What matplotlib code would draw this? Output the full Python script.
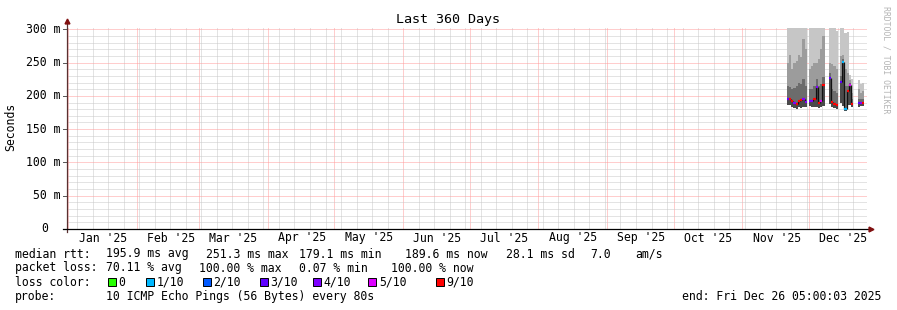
import numpy as np
import pandas as pd
import matplotlib
matplotlib.use("Agg")
import matplotlib.pyplot as plt
import matplotlib.dates as mdates
from matplotlib.ticker import MultipleLocator
from matplotlib.patches import Rectangle
from matplotlib.transforms import blended_transform_factory

plt.rcParams['font.family'] = 'DejaVu Sans Mono'
plt.rcParams['font.size'] = 8.3

W, H = 897, 310

##### data #####
days = ["2025-11-21", "2025-11-22", "2025-11-23", "2025-11-24", "2025-11-25",
        "2025-11-26", "2025-11-27", "2025-11-28", "2025-11-29",
        "2025-12-01", "2025-12-02", "2025-12-03", "2025-12-04", "2025-12-05",
        "2025-12-06", "2025-12-07",
        "2025-12-10", "2025-12-11", "2025-12-12", "2025-12-13",
        "2025-12-15", "2025-12-16", "2025-12-17", "2025-12-18", "2025-12-19",
        "2025-12-20",
        "2025-12-23", "2025-12-24", "2025-12-25"]
# smoke levels (ms)
rtt_lo  = [186, 186, 184, 182, 181, 183, 182, 184, 183,
           185, 184, 183, 183, 182, 184, 185,
           188, 183, 182, 181,
           190, 185, 178, 186, 186, 183,
           184, 185, 185]
rtt_med = [195, 196, 193, 190, 188, 192, 194, 196, 191,
           193, 193, 195, 214, 189, 192, 216,
           227, 191, 188, 187,
           221, 251, 180, 208, 217, 188,
           189, 189, 190]
rtt_p60 = [215, 214, 210, 212, 215, 220, 218, 225, 215,
           210, 210, 215, 225, 215, 218, 228,
           235, 210, 208, 205,
           230, 255, 215, 215, 219, 195,
           196, 195, 195]
rtt_p80 = [250, 262, 240, 250, 252, 262, 258, 285, 270,
           240, 245, 250, 250, 255, 270, 290,
           250, 248, 245, 240,
           260, 262, 240, 235, 224, 205,
           210, 205, 208]
rtt_hi  = [340, 340, 340, 340, 340, 340, 340, 340, 340,
           340, 340, 340, 340, 340, 340, 340,
           340, 340, 340, 298,
           340, 340, 295, 296, 232, 225,
           224, 218, 220]
loss    = [3, 9, 9, 4, 9, 9, 9, 4, 4,
           4, 4, 9, 4, 9, 5, 9,
           3, 9, 9, 9,
           3, 1, 1, 9, 5, 9,
           3, 4, 9]

loss_steps  = [0, 1, 2, 3, 4, 5, 9]
loss_labels = ["0", "1/10", "2/10", "3/10", "4/10", "5/10", "9/10"]
loss_colors = ["#26ff00", "#00b8ff", "#0059ff", "#5e00ff", "#7e00ff", "#dd00ff", "#ff0000"]

yticks = [0, 50, 100, 150, 200, 250, 300]
ytick_labels = ["0", "50 m", "100 m", "150 m", "200 m", "250 m", "300 m"]
months = ["Jan", "Feb", "Mar", "Apr", "May", "Jun", "Jul", "Aug", "Sep", "Oct", "Nov", "Dec"]

t_start = pd.Timestamp("2024-12-31 05:00")
px_per_day = 2.2178

##### figure #####
fig = plt.figure(figsize=(W / 100, H / 100), dpi=100)
fig.patch.set_facecolor("white")
ax_l, ax_r, ax_t, ax_b = 66.5, 866.5, 27.5, 229.0
ax = fig.add_axes([ax_l / W, 1 - ax_b / H, (ax_r - ax_l) / W, (ax_b - ax_t) / H])
ax.set_facecolor("white")

x0 = mdates.date2num(t_start)
x1 = x0 + (ax_r - ax_l) / px_per_day
ax.set_xlim(x0, x1)
ax.set_ylim(0, 300 * (ax_b - ax_t) / (229.0 - 29.3))

# grid (dotted, like rrdtool)
ax.xaxis.set_major_locator(mdates.MonthLocator())
ax.xaxis.set_minor_locator(mdates.WeekdayLocator(byweekday=mdates.SU))
ax.yaxis.set_major_locator(MultipleLocator(50))
ax.yaxis.set_minor_locator(MultipleLocator(10))
ax.grid(which="minor", color="#c8c8c8", lw=0.72, linestyle=(0, (1, 1)))
ax.grid(which="major", color="#ff9c9c", lw=0.72, linestyle=(0, (1, 1)))
ax.set_axisbelow(True)
ax.tick_params(axis="both", which="both", length=0, labelleft=False, labelbottom=False)
for s in ax.spines.values():
    s.set_visible(False)

# smoke
x = mdates.date2num(pd.to_datetime(days))
lo = np.array(rtt_lo, float)
med = np.array(rtt_med, float)
p60 = np.array(rtt_p60, float)
p80 = np.array(rtt_p80, float)
hi = np.array(rtt_hi, float)
bands = [(lo, med, "#4a4a4a"), (med, p60, "#6c6c6c"), (p60, p80, "#9c9c9c"), (p80, hi, "#c6c6c6")]
for b, t, c in bands:
    ax.bar(x, t - b, bottom=b, width=1.0, align="edge", color=c, linewidth=0, zorder=2)

# median
for i in range(len(x) - 1):
    if x[i + 1] - x[i] < 1.5:
        ax.vlines(x[i + 1], med[i], med[i + 1], color="#111111", lw=0.9, zorder=3)
col_of = dict(zip(loss_steps, loss_colors))
ax.hlines(med, x, x + 1, colors=[col_of[l] for l in loss], lw=1.6, zorder=4)

# axis lines + arrows
ax.plot([0, 0], [-0.015, 1.025], transform=ax.transAxes, color="#5a3030", lw=0.9, clip_on=False, zorder=5)
ax.plot([-0.005, 1.005], [0, 0], transform=ax.transAxes, color="black", lw=0.9, clip_on=False, zorder=5)
ax.plot([0], [1.03], transform=ax.transAxes, marker="^", ms=3.5, color="#801010", clip_on=False, zorder=6)
ax.plot([1.006], [0], transform=ax.transAxes, marker=">", ms=3.5, color="#801010", clip_on=False, zorder=6)

# y tick labels
ty = blended_transform_factory(fig.transFigure, ax.transData)
for v, lab in zip(yticks, ytick_labels):
    xr = 60.5 if lab != "0" else 48.5
    fig.text(xr / W, v, lab, transform=ty, ha="right", va="center")
    ax.plot([-4 / 800, 0], [v, v], transform=blended_transform_factory(ax.transAxes, ax.transData),
            color="#555555", lw=0.7, clip_on=False)

# x tick labels
tx = blended_transform_factory(ax.transData, fig.transFigure)
for m, name in enumerate(months):
    xm = mdates.date2num(pd.Timestamp(2025, m + 1, 16, 12))
    fig.text(xm, 1 - 238 / H, f"{name} '25", transform=tx, ha="center", va="center")

fig.text(448 / W, 1 - 19 / H, "Last 360 Days", ha="center", va="center", fontsize=9.6)
fig.text(11 / W, 1 - 127 / H, "Seconds", rotation=90, ha="center", va="center")
fig.text(886 / W, 1 - 60 / H, "RRDTOOL / TOBI OETIKER", rotation=270, ha="center", va="center",
         fontsize=5.9, color="#b4b4b4")

# legend text
def put(xp, yp, s, ha="left"):
    fig.text(xp / W, 1 - yp / H, s, ha=ha, va="center")

y1, y2, y3, y4 = 254, 268, 282, 296.5
put(15, y1, "median rtt:")
for xp, s in [(105.5, "195.9 ms avg"), (206, "251.3 ms max"), (298.5, "179.1 ms min"),
              (405, "189.6 ms now"), (506, "28.1 ms sd"), (590.5, "7.0"), (635, "am/s")]:
    put(xp, y1, s)
put(15, y2, "packet loss:")
for xp, s in [(106, "70.11 % avg"), (199, "100.00 % max"), (299, "0.07 % min"), (390.5, "100.00 % now")]:
    put(xp, y2, s)
put(15, y3, "loss color:")
box_x = [108, 145.7, 202.7, 260, 312.7, 368.3, 436]
for bx, c, lab in zip(box_x, loss_colors, loss_labels):
    fig.add_artist(Rectangle((bx / W, 1 - 286 / H), 8 / W, 8 / H, transform=fig.transFigure,
                             facecolor=c, edgecolor="black", lw=0.7))
    put(bx + 10.5, y3, lab)
put(15, y4, "probe:")
put(106, y4, "10 ICMP Echo Pings (56 Bytes) every 80s")
put(881, y4, "end: Fri Dec 26 05:00:03 2025", ha="right")

fig.savefig("out.png", dpi=100, facecolor="white")
